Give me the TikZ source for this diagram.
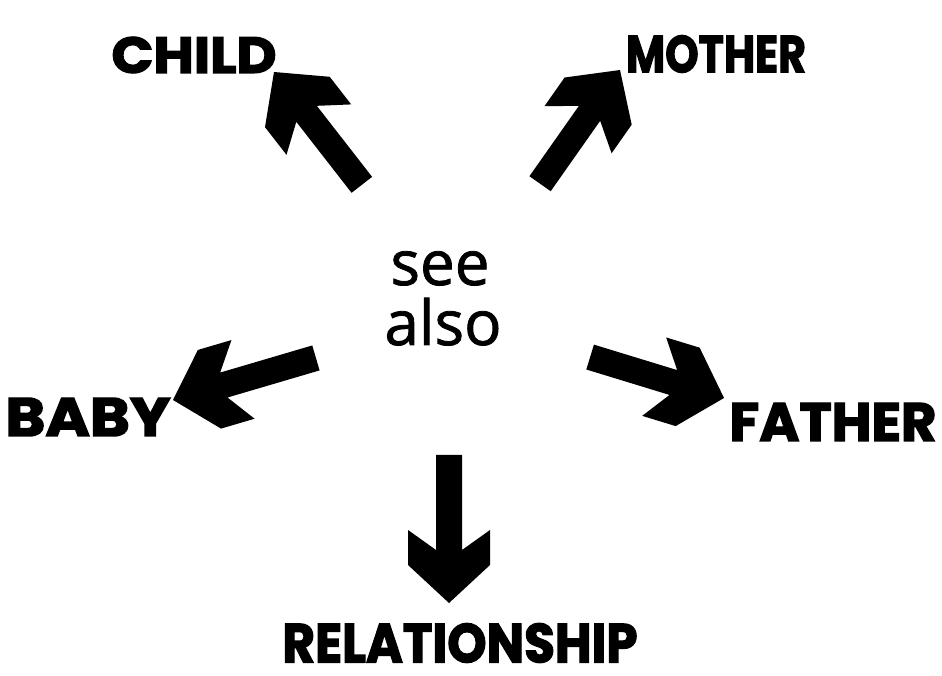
\documentclass[tikz,border=0pt]{standalone}
\usepackage{fontspec}
\setmainfont{Open Sans}[FakeBold=1.3]
\newfontfamily\heavy{Poppins}[BoldFeatures={FakeBold=2.5}]
\usepackage{graphicx}
\tikzset{
  pics/fatarrow/.style={code={
    \fill[black] (0,0) -- (-38,41) -- (-73,41) -- (-53,13) -- (-#1,13)
      -- (-#1,-13) -- (-53,-13) -- (-73,-41) -- (-38,-41) -- cycle;}},
  label/.style={inner sep=0pt, font=\heavy\bfseries},
  seetext/.style={inner sep=0pt, anchor=base, font=\fontsize{62}{62}\selectfont}
}
\begin{document}
\begin{tikzpicture}[x=1pt,y=1pt]
\fill[white] (0,0) rectangle (942,675);
\useasboundingbox (0,0) rectangle (942,675);
% labels
\node[label] (child) at (194,620) {\resizebox{165pt}{36pt}{\heavy\bfseries CHILD}};
\node[label] (mother) at (716,621) {\resizebox{180pt}{37pt}{\heavy\bfseries MOTHER}};
\node[label] (baby) at (88,258) {\resizebox{165pt}{38pt}{\heavy\bfseries BABY}};
\node[label] (father) at (833,253) {\resizebox{207pt}{38pt}{\heavy\bfseries FATHER}};
\node[label] (rel) at (460,32) {\resizebox{355pt}{39pt}{\heavy\bfseries RELATIONSHIP}};
% centre text
\node[seetext] (see) at (440,390) {see};
\node[seetext] (also) at (443,330) {also};
% arrow tips
\coordinate (tchild) at (274,603);
\coordinate (tmother) at (620,605);
\coordinate (tbaby) at (173,275);
\coordinate (tfather) at (724,277);
\coordinate (trel) at (449,72);
\pic[rotate=127.9] at (tchild) {fatarrow=143};
\pic[rotate=54.9] at (tmother) {fatarrow=139};
\pic[rotate=196.4] at (tbaby) {fatarrow=149};
\pic[rotate=-17] at (tfather) {fatarrow=140};
\pic[rotate=-90] at (trel) {fatarrow=148};
\end{tikzpicture}
\end{document}
